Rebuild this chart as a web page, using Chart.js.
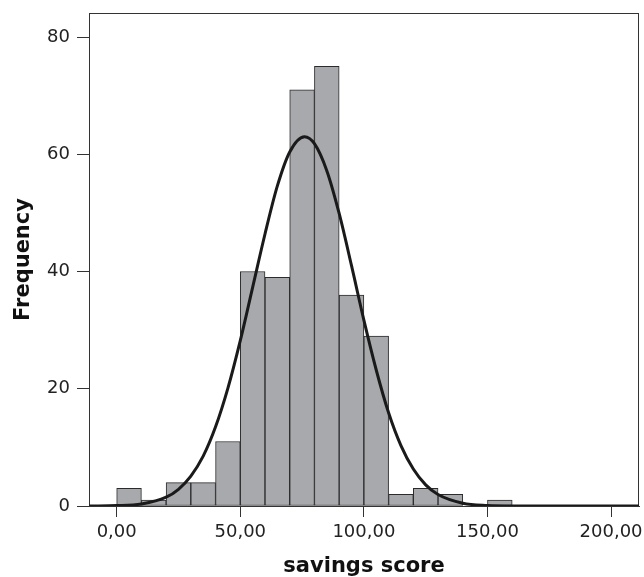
<!DOCTYPE html>
<html>
<head>
<meta charset="utf-8">
<script src="https://cdn.jsdelivr.net/npm/chart.js@4/dist/chart.umd.min.js"></script>
<style>
  html, body { margin: 0; padding: 0; background: #fff; }
  #wrap { width: 644px; height: 577px; }
</style>
</head>
<body>
<div id="wrap"><canvas id="histChart" width="644" height="577"></canvas></div>
<script>
// Histogram bins (left edge of each 10-wide bin) and counts
const binStarts = [0, 10, 20, 30, 40, 50, 60, 70, 80, 90, 100, 110, 120, 130, 140, 150];
const binCounts = [3, 1, 4, 4, 11, 40, 39, 71, 75, 36, 29, 2, 3, 2, 0, 1];
const binWidth = 10;

// Overlay curve
const curveX = [-11, 0, 10, 20, 25, 30, 35, 40, 45, 50, 55, 60, 65, 70, 76, 80, 85, 90, 95, 100, 105, 110, 115, 120, 125, 130, 140, 150, 160, 212];
const curveY = [0.01, 0.07, 0.35, 1.5, 2.85, 5.1, 8.5, 13.5, 20.1, 28.2, 37.3, 46.4, 54.6, 60.4, 63, 61.8, 57.2, 49.9, 41.0, 31.7, 23.2, 15.9, 10.3, 6.3, 3.6, 1.96, 0.48, 0.09, 0.01, 0];

// Axis ticks
const xTicks = [0, 50, 100, 150, 200];
const xTickLabels = ['0,00', '50,00', '100,00', '150,00', '200,00'];
const yTicks = [0, 20, 40, 60, 80];

const barData = binStarts.map((s, i) => ({ x: s + binWidth / 2, y: binCounts[i] }));
const curveData = curveX.map((x, i) => ({ x: x, y: curveY[i] }));

// thin frame round the plot area (top and right sides)
const framePlugin = {
    id: 'frame',
    beforeDatasetsDraw(chart) {
        const { ctx, chartArea: a } = chart;
        ctx.save();
        ctx.strokeStyle = '#333';
        ctx.lineWidth = 1;
        ctx.strokeRect(a.left + 0.5, a.top + 0.5, a.right - a.left - 1, a.bottom - a.top);
        ctx.restore();
    }
};

const tickFont = { family: 'DejaVu Sans', size: 18 };
const titleFont = { family: 'DejaVu Sans', size: 21, weight: 'bold' };

new Chart(document.getElementById('histChart'), {
    type: 'bar',
    data: {
        datasets: [
            {
                type: 'line',
                data: curveData,
                borderColor: '#1a1a1a',
                borderWidth: 3,
                pointRadius: 0,
                fill: false,
                cubicInterpolationMode: 'monotone',
                order: 0
            },
            {
                type: 'bar',
                data: barData,
                backgroundColor: '#a7a9ac',
                borderColor: '#2b2b2b',
                borderWidth: 1,
                borderSkipped: false,
                barPercentage: 1,
                categoryPercentage: 1,
                order: 1
            }
        ]
    },
    options: {
        responsive: false,
        animation: false,
        layout: { padding: { top: 13, right: 5, left: 0, bottom: 0 } },
        plugins: {
            legend: { display: false },
            tooltip: { enabled: false }
        },
        scales: {
            x: {
                type: 'linear',
                min: -11.2,
                max: 211.3,
                offset: false,
                afterFit: s => { s.height = 71; s.paddingLeft = 0; s.paddingRight = 0; },
                afterBuildTicks: s => { s.ticks = xTicks.map(v => ({ value: v })); },
                grid: { offset: false, drawOnChartArea: false, tickLength: 11, tickColor: '#333' },
                border: { color: '#333', width: 1 },
                ticks: {
                    color: '#222',
                    font: tickFont,
                    padding: 5,
                    maxRotation: 0,
                    callback: v => xTickLabels[xTicks.indexOf(v)]
                },
                title: {
                    display: true,
                    text: 'savings score',
                    color: '#111',
                    font: { ...titleFont, lineHeight: 1 },
                    padding: { top: 0, bottom: 0 }
                }
            },
            y: {
                min: 0,
                max: 84.1,
                afterFit: s => { s.width = 89; s.paddingTop = 0; s.paddingBottom = 0; },
                afterBuildTicks: s => { s.ticks = yTicks.map(v => ({ value: v })); },
                grid: { drawOnChartArea: false, tickLength: 12, tickColor: '#333' },
                border: { color: '#555', width: 1 },
                ticks: { color: '#222', font: tickFont, padding: 7 },
                title: {
                    display: true,
                    text: 'Frequency',
                    color: '#111',
                    font: titleFont,
                    padding: { top: 11, bottom: 0 }
                }
            }
        }
    },
    plugins: [framePlugin]
});
</script>
</body>
</html>
